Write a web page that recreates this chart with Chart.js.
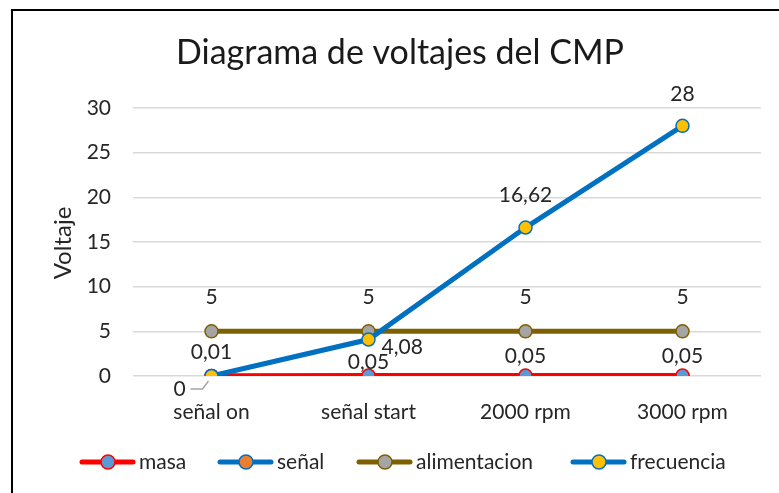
<!DOCTYPE html>
<html>
<head>
<meta charset="utf-8">
<script src="https://cdn.jsdelivr.net/npm/chart.js@4"></script>
<style>
  body { margin: 0; background: #fff; }
  #wrap { position: relative; width: 779px; height: 493px; overflow: hidden; }
  #frame { position: absolute; left: 11px; top: 9px; width: 800px; height: 520px; border: 2px solid #000; box-sizing: border-box; }
  canvas { position: absolute; left: 0; top: 0; }
</style>
</head>
<body>
<div id="wrap">
  <div id="frame"></div>
  <canvas id="chart" width="779" height="493"></canvas>
</div>
<script>
const categories = ['señal on', 'señal start', '2000 rpm', '3000 rpm'];
const masa = [0.01, 0.05, 0.05, 0.05];
const senal = [0, 0, 0, 0];
const alimentacion = [5, 5, 5, 5];
const frecuencia = [0, 4.08, 16.62, 28];
const yTicks = [0, 5, 10, 15, 20, 25, 30];

const FONT = 'Lato, "Open Sans", sans-serif';
const TEXT = '#262626';

function fmt(v) {
  return String(v).replace('.', ',');
}

// where each dataset's labels sit relative to the point
const labelPos = {
  masa: ['up24', 'up13', 'up19', 'up19'],
  alimentacion: ['up34', 'up34', 'up34', 'up34'],
  frecuencia: ['leader', 'right', 'up32', 'up32']
};

const extras = {
  id: 'extras',
  afterDatasetsDraw(chart) {
    const ctx = chart.ctx;
    ctx.save();
    ctx.fillStyle = TEXT;
    ctx.font = '21px ' + FONT;
    ctx.textAlign = 'center';
    ctx.textBaseline = 'middle';
    chart.data.datasets.forEach((ds, i) => {
      const pos = labelPos[ds.key];
      if (!pos) return;
      const meta = chart.getDatasetMeta(i);
      meta.data.forEach((pt, j) => {
        const p = pos[j];
        const txt = fmt(ds.data[j]);
        if (p.startsWith('up')) {
          ctx.fillText(txt, pt.x, pt.y - parseInt(p.slice(2)));
        } else if (p === 'right') {
          ctx.textAlign = 'left';
          ctx.fillText(txt, pt.x + 13, pt.y + 8);
          ctx.textAlign = 'center';
        } else if (p === 'leader') {
          ctx.fillText(txt, pt.x - 32, pt.y + 13);
          ctx.strokeStyle = '#a6a6a6';
          ctx.lineWidth = 1.5;
          ctx.beginPath();
          ctx.moveTo(pt.x - 21, pt.y + 13);
          ctx.lineTo(pt.x - 9, pt.y + 13);
          ctx.lineTo(pt.x - 3, pt.y + 5);
          ctx.stroke();
        }
      });
    });
    ctx.restore();
  },
  afterDraw(chart) {
    const ctx = chart.ctx;
    ctx.save();
    ctx.textBaseline = 'middle';
    // title
    ctx.textAlign = 'center';
    ctx.fillStyle = '#1a1a1a';
    ctx.font = '34px ' + FONT;
    ctx.fillText('Diagrama de voltajes del CMP', 400, 53);
    // y axis title
    ctx.fillStyle = TEXT;
    ctx.font = '24px ' + FONT;
    ctx.translate(63, 243);
    ctx.rotate(-Math.PI / 2);
    ctx.fillText('Voltaje', 0, 0);
    ctx.setTransform(1, 0, 0, 1, 0, 0);
    // legend
    ctx.font = '21px ' + FONT;
    ctx.textAlign = 'left';
    const xs = [80, 218, 357, 571];
    chart.data.datasets.forEach((ds, i) => {
      const x = xs[i], y = 462;
      ctx.strokeStyle = ds.borderColor;
      ctx.lineWidth = 5;
      ctx.lineCap = 'round';
      ctx.beginPath();
      ctx.moveTo(x + 2, y);
      ctx.lineTo(x + 53, y);
      ctx.stroke();
      ctx.beginPath();
      ctx.arc(x + 28, y, 7, 0, Math.PI * 2);
      ctx.fillStyle = ds.pointBackgroundColor;
      ctx.fill();
      ctx.lineWidth = 1.5;
      ctx.strokeStyle = ds.pointBorderColor;
      ctx.stroke();
      ctx.fillStyle = TEXT;
      ctx.fillText(ds.label, x + 59, y);
    });
    ctx.restore();
  }
};

function series(key, label, data, line, fill, order) {
  return {
    key: key,
    label: label,
    data: data,
    borderColor: line,
    borderWidth: 5,
    pointBackgroundColor: fill,
    pointBorderColor: line,
    pointBorderWidth: 1.5,
    pointRadius: 6.5,
    tension: 0,
    order: order
  };
}

new Chart('chart', {
  type: 'line',
  data: {
    labels: categories,
    datasets: [
      series('masa', 'masa', masa, '#ff0000', '#5b9bd5', 2),
      series('senal', 'señal', senal, '#0070c0', '#ed7d31', 3),
      series('alimentacion', 'alimentacion', alimentacion, '#7f6000', '#a5a5a5', 1),
      series('frecuencia', 'frecuencia', frecuencia, '#0070c0', '#ffc000', 0)
    ]
  },
  options: {
    responsive: false,
    animation: false,
    layout: { padding: { top: 108, bottom: 57, left: 0, right: 18 } },
    plugins: {
      legend: { display: false },
      title: { display: false },
      tooltip: { enabled: false }
    },
    scales: {
      x: {
        offset: true,
        grid: { display: false },
        border: { display: false },
        ticks: { color: TEXT, font: { family: FONT, size: 21 }, padding: 16, maxRotation: 0 },
        afterFit(scale) { scale.height = 60; }
      },
      y: {
        min: 0,
        max: 30,
        afterBuildTicks(scale) { scale.ticks = yTicks.map(v => ({ value: v })); },
        grid: { color: '#d9d9d9', lineWidth: 1.5, drawTicks: false },
        border: { display: false },
        ticks: { color: TEXT, font: { family: FONT, size: 21 }, padding: 22 },
        afterFit(scale) { scale.width = 133; }
      }
    }
  },
  plugins: [extras]
});
</script>
</body>
</html>
